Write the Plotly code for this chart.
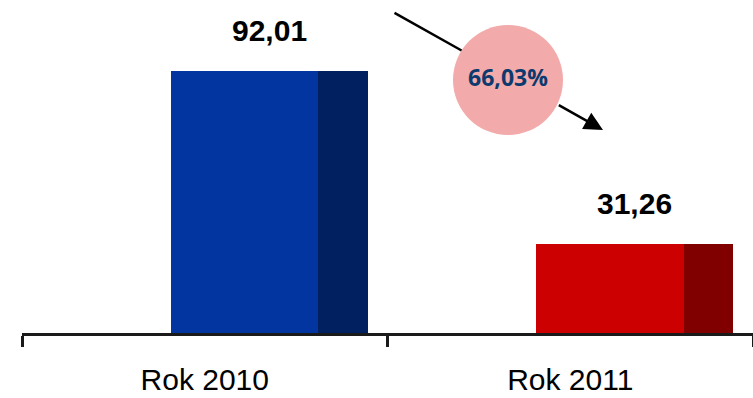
import math
import plotly.graph_objects as go

# --- data ---
categories = ["Rok 2010", "Rok 2011"]
values = [92.01, 31.26]
front_colors = ["#0335A0", "#CC0000"]
side_colors = ["#002060", "#800000"]

def fmt(v):
    return f"{v:.2f}".replace(".", ",")

change_pct = (values[0] - values[1]) / values[0] * 100

# --- geometry (pixels) ---
W, H = 753, 398
ML, MB = 22, 65
PW, PH = W - ML, H - MB
YMAX = 116.94

def xd(px):
    return (px - ML) / PW * len(categories)

def yd(py):
    return (PH - py) / PH * YMAX

# bar placement inside each category slot (fraction of slot)
f_start, f_split, f_end = 0.407, 0.81, 0.946
idx = list(range(len(categories)))

fig = go.Figure()
fig.add_trace(go.Bar(
    x=[i + (f_start + f_split) / 2 for i in idx], y=values,
    width=f_split - f_start, marker=dict(color=front_colors, line=dict(width=0)),
    hoverinfo="skip", showlegend=False))
fig.add_trace(go.Bar(
    x=[i + (f_split + f_end) / 2 for i in idx], y=values,
    width=f_end - f_split, marker=dict(color=side_colors, line=dict(width=0)),
    hoverinfo="skip", showlegend=False))

annotations = []
for i, v in zip(idx, values):
    annotations.append(dict(
        x=i + (f_start + f_end) / 2, y=v, xref="x", yref="y",
        text=f"<b>{fmt(v)}</b>", showarrow=False, yanchor="bottom", yshift=22,
        font=dict(family="Liberation Sans, Arial", size=30, color="#000000")))

# percentage bubble and arrow
cx, cy, r = 508, 80, 55
sx, sy = 393, 12
tx, ty = 603, 130
dx, dy = tx - sx, ty - sy
L = math.hypot(dx, dy)
ux, uy = dx / L, dy / L
# projection of circle centre onto the arrow line
t0 = (cx - sx) * ux + (cy - sy) * uy
dist2 = (cx - (sx + t0 * ux)) ** 2 + (cy - (sy + t0 * uy)) ** 2
half = math.sqrt(max(r * r - dist2, 0))
ex, ey = sx + (t0 - half) * ux, sy + (t0 - half) * uy
ox, oy = sx + (t0 + half) * ux, sy + (t0 + half) * uy

annotations.append(dict(
    x=xd(ex), y=yd(ey), xref="x", yref="y", text="", showarrow=True,
    ax=sx - ex, ay=sy - ey, arrowhead=0, arrowwidth=2.5, arrowcolor="#000000",
    standoff=0, startstandoff=0))
annotations.append(dict(
    x=xd(tx), y=yd(ty), xref="x", yref="y", text="", showarrow=True,
    ax=ox - tx, ay=oy - ty, arrowhead=2, arrowsize=1.5, arrowwidth=2.5,
    arrowcolor="#000000", standoff=0, startstandoff=0))

fig.add_trace(go.Scatter(
    x=[xd(cx)], y=[yd(cy)], mode="markers+text",
    marker=dict(size=2 * r, color="#F2AAAA", line=dict(width=0)),
    text=[f"<b>{change_pct:.2f}%</b>".replace(".", ",")],
    textposition="middle center",
    textfont=dict(family="Open Sans", size=23, color="#0C3A6E"),
    hoverinfo="skip", showlegend=False, cliponaxis=False))

fig.update_layout(
    width=W, height=H,
    margin=dict(l=ML, r=0, t=0, b=MB),
    paper_bgcolor="white", plot_bgcolor="white",
    barmode="overlay", bargap=0,
    annotations=annotations,
    font=dict(family="Liberation Sans, Arial", color="#000000"),
)
fig.update_xaxes(
    range=[0, len(categories)], showgrid=False, zeroline=False,
    showline=True, linecolor="#1a1a1a", linewidth=2.5,
    tickmode="array", tickvals=[i + 0.5 for i in idx], ticktext=categories,
    ticks="", tickfont=dict(family="Liberation Sans, Arial", size=30, color="#000000"),
    ticklabelstandoff=18,
    minor=dict(tickmode="array", tickvals=list(range(len(categories) + 1)),
               ticks="outside", ticklen=11, tickwidth=2.5, tickcolor="#1a1a1a"),
    fixedrange=True)
fig.update_yaxes(range=[0, YMAX], visible=False, showgrid=False, fixedrange=True)

fig.write_html("out.html", config={"displayModeBar": False})
